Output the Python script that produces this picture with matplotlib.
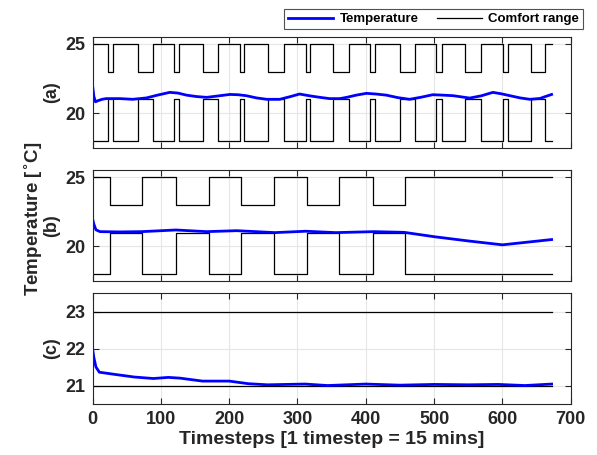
import numpy as np
import matplotlib
matplotlib.use('Agg')
import matplotlib.pyplot as plt

plt.rcParams['font.family'] = ['Liberation Sans', 'DejaVu Sans']
plt.rcParams['font.weight'] = 'bold'

# horizon
t_end = 672

# occupied windows (comfort range tightens to 21..23)
windows_a = [(23, 30), (66, 88), (119, 126), (162, 184), (216, 222), (257, 280),
             (312, 318), (352, 375), (406, 413), (450, 472), (503, 511), (545, 568),
             (601, 608), (642, 663)]
windows_b = [(26, 73), (122, 170), (218, 265), (314, 361), (410, 457)]

# comfort bounds
free_low, free_high = 18, 25
occ_low, occ_high = 21, 23
c_low, c_high = 21, 23

# indoor temperature
temp_a_t = [0, 2, 4.3, 8, 14, 20, 40, 59, 79, 95, 113, 125, 137.5, 152, 167, 185, 201, 213,
            225, 240, 255, 274, 290, 303, 318, 333, 347, 362, 372, 386, 401, 415, 430, 447,
            464, 481, 498, 513, 528, 552, 569, 586, 598, 611, 626, 640, 655, 663, 672]
temp_a = [22.0, 21.2, 20.82, 20.9, 21.0, 21.05, 21.05, 21.0, 21.1, 21.3, 21.5, 21.45, 21.3,
          21.2, 21.14, 21.25, 21.35, 21.33, 21.26, 21.1, 21.0, 21.0, 21.2, 21.38, 21.25,
          21.14, 21.05, 21.05, 21.14, 21.3, 21.43, 21.38, 21.3, 21.12, 21.0, 21.15, 21.33,
          21.3, 21.26, 21.09, 21.25, 21.5, 21.4, 21.26, 21.1, 21.0, 21.06, 21.2, 21.35]

temp_b_t = [0, 2, 5, 11, 40, 72, 122, 167, 211, 267, 312, 356, 412, 456, 501, 550, 600, 672]
temp_b = [22.0, 21.6, 21.2, 21.07, 21.05, 21.07, 21.19, 21.07, 21.14, 21.0, 21.1, 21.0,
          21.07, 21.02, 20.7, 20.4, 20.12, 20.5]

temp_c_t = [0, 2, 5, 10, 33, 61, 89, 111, 128, 161, 200, 228, 256, 311, 344, 400, 450, 500,
            550, 594, 633, 672]
temp_c = [22.0, 21.75, 21.5, 21.36, 21.3, 21.23, 21.19, 21.22, 21.2, 21.12, 21.12, 21.05,
          21.02, 21.04, 21.0, 21.04, 21.01, 21.03, 21.02, 21.03, 21.0, 21.04]


def bounds(windows):
    ts, lo, hi = [0], [free_low], [free_high]
    for a, b in windows:
        ts += [a, b]
        lo += [occ_low, free_low]
        hi += [occ_high, free_high]
    ts.append(t_end)
    lo.append(lo[-1])
    hi.append(hi[-1])
    return ts, lo, hi


dark = (0.15, 0.15, 0.15)
blue = (0, 0, 1)

fig = plt.figure(figsize=(5.97, 4.55), dpi=100)
left, width, height = 0.155, 0.801, 0.244
axa = fig.add_axes([left, 0.675, width, height])
axb = fig.add_axes([left, 0.382, width, height])
axc = fig.add_axes([left, 0.112, width, height])


def style(ax, ylim, yticks, lab, show_x):
    ax.set_xlim(0, 700)
    ax.set_ylim(*ylim)
    ax.set_yticks(yticks)
    ax.set_xticks(range(0, 701, 100))
    ax.grid(True, color=(0.9, 0.9, 0.9), lw=0.8)
    ax.set_axisbelow(True)
    ax.tick_params(direction='in', top=True, right=True, length=4, width=0.8,
                   colors=dark, labelsize=13, pad=5)
    if not show_x:
        ax.set_xticklabels([])
    for s in ax.spines.values():
        s.set_color(dark)
        s.set_linewidth(0.8)
    ax.set_ylabel(lab, fontsize=13, fontweight='bold', color=dark, labelpad=4)


for ax, win in [(axa, windows_a), (axb, windows_b)]:
    ts, lo, hi = bounds(win)
    ax.step(ts, hi, where='post', color='k', lw=0.9)
    ax.step(ts, lo, where='post', color='k', lw=0.9)

l1, = axa.plot(temp_a_t, temp_a, color=blue, lw=2)
axb.plot(temp_b_t, temp_b, color=blue, lw=2)
axc.plot([0, t_end], [c_high, c_high], color='k', lw=0.9)
l2, = axc.plot([0, t_end], [c_low, c_low], color='k', lw=0.9)
axc.plot(temp_c_t, temp_c, color=blue, lw=2)

style(axa, (17.5, 25.5), [20, 25], '(a)', False)
style(axb, (17.5, 25.5), [20, 25], '(b)', False)
style(axc, (20.5, 23.5), [21, 22, 23], '(c)', True)

axc.set_xlabel('Timesteps [1 timestep = 15 mins]', fontsize=14, fontweight='bold',
               color=dark, labelpad=2)
fig.text(0.056, 0.52, r'Temperature [$^{\circ}$C]', rotation=90, ha='center', va='center',
         fontsize=13.5, fontweight='bold', color=dark)

leg = fig.legend([l1, l2], ['Temperature', 'Comfort range'], ncol=2,
                 loc='upper right', bbox_to_anchor=(0.977, 0.98), borderaxespad=0,
                 frameon=True, fancybox=False, edgecolor=dark, fontsize=9.5,
                 handlelength=3.4, columnspacing=1.4, handletextpad=0.5, borderpad=0.3)
leg.get_frame().set_linewidth(0.8)
for txt in leg.get_texts():
    txt.set_fontweight('bold')
    txt.set_color('k')

fig.savefig('out.png', dpi=100)
